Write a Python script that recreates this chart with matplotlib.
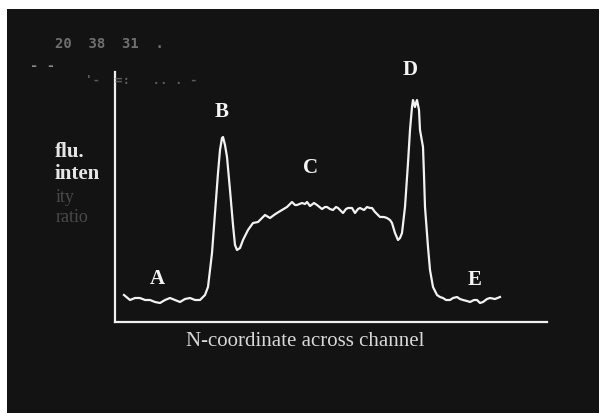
import matplotlib
matplotlib.use('Agg')
import matplotlib.pyplot as plt
from matplotlib.patches import Rectangle

# 扫描位置(相对坐标轴原点, 任意单位) 与荧光强度
pos = [9, 15, 20, 25, 30, 35, 40, 45, 50, 55,
       60, 65, 70, 75, 80, 85, 90, 93, 95, 97,
       100, 103, 105, 107, 108, 110, 112, 115, 118, 120,
       122, 125, 128, 133, 138, 143, 147, 150, 155, 159,
       162, 167, 172, 175, 177, 180, 182, 187, 190, 192,
       195, 199, 202, 207, 210, 212, 215, 218, 221, 223,
       228, 231, 233, 237, 240, 243, 245, 249, 252, 255,
       257, 260, 265, 269, 272, 275, 277, 280, 283, 285,
       287, 290, 293, 295, 297, 298, 300, 301, 302, 304,
       305, 308, 309, 310, 313, 315, 318, 322, 325, 328,
       331, 335, 338, 342, 345, 348, 352, 355, 359, 362,
       365, 368, 372, 375, 380, 385]
inten = [27, 22, 24, 24, 22, 22, 20, 19, 22, 24,
         22, 20, 23, 24, 22, 22, 27, 35, 52, 69,
         109, 149, 172, 184, 185, 177, 165, 132, 97, 77,
         72, 74, 82, 92, 99, 100, 104, 107, 104, 107,
         109, 112, 115, 118, 120, 117, 117, 119, 118, 120,
         116, 119, 117, 113, 115, 115, 113, 112, 115, 114,
         109, 113, 114, 114, 109, 113, 114, 112, 115, 114,
         114, 110, 105, 105, 104, 102, 99, 89, 82, 84,
         89, 115, 159, 192, 215, 222, 215, 219, 222, 212,
         192, 175, 147, 115, 75, 52, 35, 27, 25, 24,
         22, 22, 24, 25, 23, 22, 21, 20, 22, 22,
         19, 20, 23, 24, 23, 25]

# 区域标签及其位置
region_names = ['A', 'B', 'C', 'D', 'E']
region_x = [42, 107, 195, 295, 360]
region_y = [43, 210, 154, 252, 42]

W, H = 599, 413
fig = plt.figure(figsize=(W / 100, H / 100), dpi=100)
fig.patch.set_facecolor('white')
# 黑色屏幕背景
fig.patches.append(Rectangle((7 / W, 0), 1, 1 - 9 / H, transform=fig.transFigure,
                             facecolor='#131313', edgecolor='none', zorder=-5))

ax = fig.add_axes([115 / W, (H - 322) / H, 432 / W, 250 / H])
ax.set_zorder(2)
ax.set_facecolor('none')
ax.plot(pos, inten, color='#f2f2f2', lw=1.6, solid_joinstyle='round')
ax.set_xlim(0, 432)
ax.set_ylim(0, 250)
for s in ['top', 'right']:
    ax.spines[s].set_visible(False)
for s in ['left', 'bottom']:
    ax.spines[s].set_color('#f0f0f0')
    ax.spines[s].set_linewidth(1.6)
ax.set_xticks([])
ax.set_yticks([])

serif = 'Liberation Serif'
for name, x, y in zip(region_names, region_x, region_y):
    ax.text(x, y, name, color='#f4f4f4', fontsize=15, fontweight='bold',
            family=serif, ha='center', va='center', clip_on=False)


def ftext(px, py, s, **kw):
    fig.text(px / W, 1 - py / H, s, zorder=3, **kw)


ftext(305, 341, 'N-coordinate across channel', color='#d8d8d8', fontsize=15,
      family=serif, ha='center', va='center')
ftext(55, 152, 'flu.', color='#e6e6e6', fontsize=15, fontweight='bold',
      family=serif, ha='left', va='center')
ftext(55, 174, 'inten', color='#e6e6e6', fontsize=15, fontweight='bold',
      family=serif, ha='left', va='center')
ftext(56, 197, 'ity', color='#4a4a4a', fontsize=13, family=serif,
      ha='left', va='center')
ftext(56, 218, 'ratio', color='#4a4a4a', fontsize=13, family=serif,
      ha='left', va='center')

# 屏幕上模糊的读数
ftext(55, 44, '20  38  31  .', color='#707070', fontsize=10, fontweight='bold',
      family='DejaVu Sans Mono', ha='left', va='center')
ftext(30, 66, '- -', color='#8a8a8a', fontsize=10, fontweight='bold',
      family='DejaVu Sans Mono', ha='left', va='center')
ftext(85, 80, '\'-  =:   .. . -', color='#5a5a5a', fontsize=9, fontweight='bold',
      family='DejaVu Sans Mono', ha='left', va='center')

fig.savefig('out.png', dpi=100, facecolor=fig.get_facecolor())
